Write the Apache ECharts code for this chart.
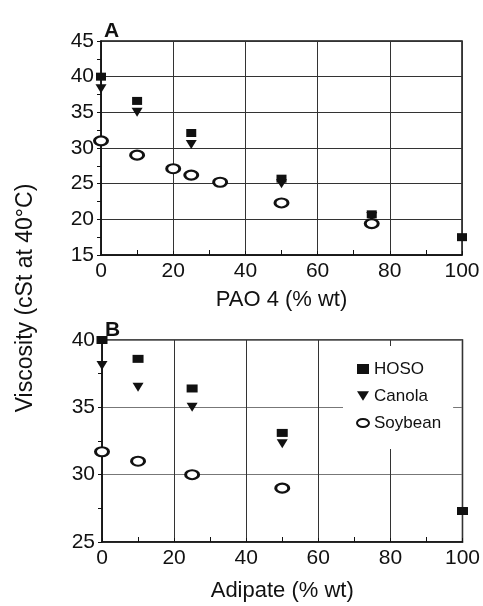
<!DOCTYPE html>
<html>
<head>
<meta charset="utf-8">
<script src="https://cdn.jsdelivr.net/npm/echarts@6/dist/echarts.min.js"></script>
<style>
  html, body { margin: 0; padding: 0; background: #fff; }
  #chart { width: 483px; height: 606px; }
</style>
</head>
<body>
<div id="chart"></div>
<script>
// panel A: viscosity vs PAO 4 content
const paoHoso = [0, 10, 25, 50, 75, 100];
const hosoA = [40, 36.6, 32.1, 25.7, 20.7, 17.5];
const paoCanola = [0, 10, 25, 50, 75];
const canolaA = [38.3, 35.0, 30.5, 25.0, 20.4];
const paoSoy = [0, 10, 20, 25, 33, 50, 75];
const soyA = [31.0, 29.0, 27.1, 26.2, 25.2, 22.3, 19.4];

// panel B: viscosity vs adipate content
const adiHoso = [0, 10, 25, 50, 100];
const hosoB = [40, 38.6, 36.4, 33.1, 27.3];
const adiCanola = [0, 10, 25, 50];
const canolaB = [38.1, 36.5, 35.0, 32.3];
const adiSoy = [0, 10, 25, 50];
const soyB = [31.7, 31.0, 30.0, 29.0];

const names = ["HOSO", "Canola", "Soybean"];

const pair = (xs, ys) => xs.map((x, i) => [x, ys[i]]);

const FONT = "Liberation Sans";
const INK = "#111";

// symbols
const sqSym = "rect";
const triSym = "path://M0,0 L10,0 L5,8 Z";
const ovalSym = "path://M0,4 A6,4 0 1,1 12,4 A6,4 0 1,1 0,4 Z";

function xAx(gridIndex, name, gap) {
  return {
    type: "value",
    gridIndex,
    min: 0,
    max: 100,
    interval: 20,
    name,
    nameLocation: "middle",
    nameGap: gap,
    nameTextStyle: { color: INK, fontFamily: FONT, fontSize: 22 },
    axisLine: { lineStyle: { color: INK, width: 1.5 } },
    axisTick: { inside: true, length: 4, lineStyle: { color: INK } },
    minorTick: { show: true, splitNumber: 2, length: 5, lineStyle: { color: INK } },
    axisLabel: { color: INK, fontFamily: FONT, fontSize: 21, margin: 6 },
    splitLine: { lineStyle: { color: "#333", width: 1 } }
  };
}

function yAx(gridIndex, min, max, lineColor) {
  return {
    type: "value",
    gridIndex,
    min,
    max,
    interval: 5,
    axisLine: { show: true, lineStyle: { color: INK, width: 1.5 } },
    axisTick: { show: true, length: 4, lineStyle: { color: INK } },
    minorTick: { show: true, splitNumber: 2, length: 4, lineStyle: { color: INK } },
    axisLabel: { color: INK, fontFamily: FONT, fontSize: 21, margin: 7 },
    splitLine: { lineStyle: { color: lineColor, width: 1 } }
  };
}

function scat(name, xi, data, sym, size, hollow) {
  return {
    name,
    type: "scatter",
    xAxisIndex: xi,
    yAxisIndex: xi,
    data,
    symbol: sym,
    symbolSize: size,
    clip: false,
    z: 5,
    itemStyle: hollow
      ? { color: "#fff", borderColor: INK, borderWidth: 2.5, opacity: 1 }
      : { color: INK, opacity: 1 }
  };
}

const chart = echarts.init(document.getElementById("chart"));
chart.setOption({
  backgroundColor: "#fff",
  animation: false,
  title: [
    { text: "A", left: 99, top: 16, textStyle: { fontFamily: FONT, fontSize: 21, fontWeight: "bold", color: INK } },
    { text: "B", left: 100, top: 315, textStyle: { fontFamily: FONT, fontSize: 21, fontWeight: "bold", color: INK } }
  ],
  grid: [
    { left: 101, top: 41, width: 361, height: 214, show: true, borderColor: INK, borderWidth: 1.5, backgroundColor: "transparent" },
    { left: 102, top: 340, width: 361, height: 202, show: true, borderColor: INK, borderWidth: 1.5, backgroundColor: "transparent" }
  ],
  xAxis: [xAx(0, "PAO 4 (% wt)", 34), xAx(1, "Adipate (% wt)", 38)],
  yAxis: [yAx(0, 15, 45, "#333"), yAx(1, 25, 40, "#777")],
  legend: {
    data: names,
    orient: "vertical",
    left: 343,
    top: 346,
    padding: [13, 12, 16, 13],
    itemGap: 7,
    itemWidth: 12,
    itemHeight: 10,
    backgroundColor: "#fff",
    z: 10,
    textStyle: { color: INK, fontFamily: FONT, fontSize: 17, lineHeight: 20 }
  },
  graphic: [
    {
      type: "text",
      x: 26,
      y: 298,
      rotation: Math.PI / 2,
      style: {
        text: "Viscosity (cSt at 40°C)",
        fill: INK,
        font: "23px 'Liberation Sans'",
        textAlign: "center",
        textVerticalAlign: "middle"
      }
    }
  ],
  series: [
    scat(names[0], 0, pair(paoHoso, hosoA), sqSym, [10, 8], false),
    scat(names[1], 0, pair(paoCanola, canolaA), triSym, [11, 9], false),
    scat(names[2], 0, pair(paoSoy, soyA), ovalSym, [13, 9], true),
    scat(names[0], 1, pair(adiHoso, hosoB), sqSym, [11, 8], false),
    scat(names[1], 1, pair(adiCanola, canolaB), triSym, [11, 9], false),
    scat(names[2], 1, pair(adiSoy, soyB), ovalSym, [13, 9], true)
  ]
});
</script>
</body>
</html>
